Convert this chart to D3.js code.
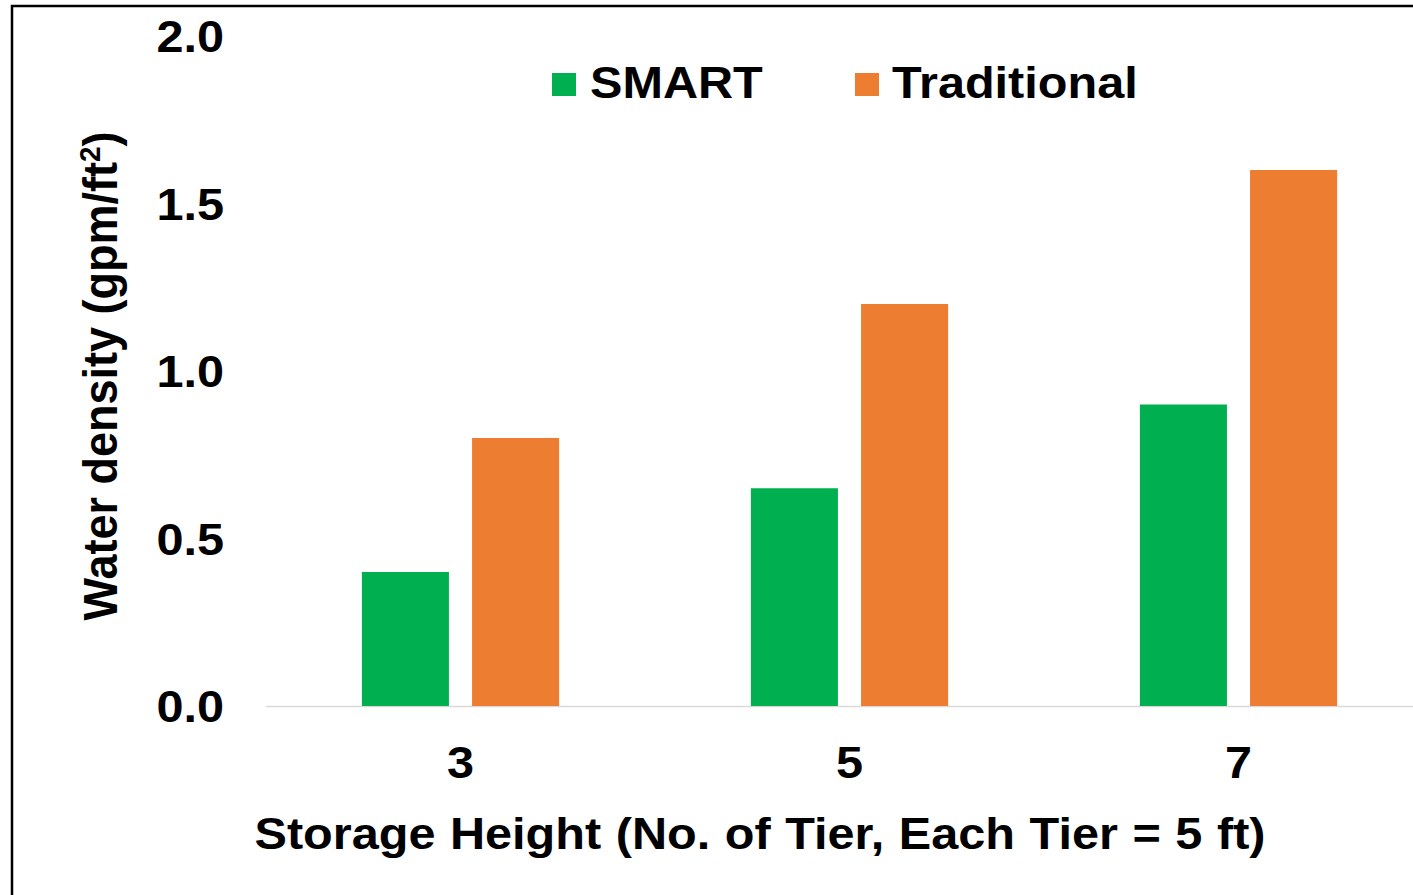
<!DOCTYPE html>
<html>
<head>
<meta charset="utf-8">
<script src="https://cdn.jsdelivr.net/npm/d3@7"></script>
<style>
  html, body { margin: 0; padding: 0; background: #fff; overflow: hidden; }
  text { font-family: "Liberation Sans", Arial, sans-serif; font-weight: bold; fill: #000; }
</style>
</head>
<body>
<svg id="chart" width="1413" height="895"></svg>
<script>
// Storage height categories (number of tiers)
const categories = ["3", "5", "7"];
const seriesNames = ["SMART", "Traditional"];
// Water density, gpm/ft²
const smartValues = [0.4, 0.65, 0.9];
const traditionalValues = [0.8, 1.2, 1.6];
const yTicks = [0, 0.5, 1.0, 1.5, 2.0];
const seriesColors = ["#00B050", "#ED7D31"];

const W = 1413, H = 895;
const FS = 45;      // base font size
const SX = 1.08;    // horizontal glyph stretch

const svg = d3.select("#chart");

const plot = { left: 266, right: 1433, top: 36, bottom: 706 };

const x = d3.scaleBand().domain(categories).range([plot.left, plot.right]).paddingInner(0).paddingOuter(0);
const x1 = d3.scaleBand().domain(seriesNames).range([0, x.bandwidth()]).paddingInner(0.21).paddingOuter(0.87);
const y = d3.scaleLinear().domain([0, 2]).range([plot.bottom, plot.top]);
const color = d3.scaleOrdinal().domain(seriesNames).range(seriesColors);

const rows = categories.map((c, i) => ({
  category: c,
  values: [
    { series: "SMART", value: smartValues[i] },
    { series: "Traditional", value: traditionalValues[i] }
  ]
}));

// Outer frame
svg.append("rect")
  .attr("x", 12).attr("y", 6)
  .attr("width", W + 20).attr("height", H + 20)
  .attr("fill", "none").attr("stroke", "#000").attr("stroke-width", 2.5);

// Category axis baseline
svg.append("line")
  .attr("x1", plot.left).attr("x2", W)
  .attr("y1", y(0) + 0.5).attr("y2", y(0) + 0.5)
  .attr("stroke", "#d9d9d9").attr("stroke-width", 1.5);

// Bars
svg.append("g")
  .selectAll("g")
  .data(rows)
  .join("g")
  .attr("transform", d => `translate(${x(d.category)},0)`)
  .selectAll("rect")
  .data(d => d.values)
  .join("rect")
  .attr("x", d => x1(d.series))
  .attr("width", x1.bandwidth())
  .attr("y", d => y(d.value))
  .attr("height", d => y(0) - y(d.value))
  .attr("fill", d => color(d.series));

// Value axis labels
const yAxis = svg.append("g")
  .attr("transform", "translate(224,0)")
  .call(d3.axisLeft(y).tickValues(yTicks).tickFormat(d3.format(".1f")).tickSize(0).tickPadding(0));
yAxis.select(".domain").remove();
yAxis.attr("font-size", FS).attr("font-family", null);
yAxis.selectAll("text")
  .attr("x", 0).attr("dy", "0.35em")
  .attr("text-anchor", "end")
  .attr("transform", `scale(${SX},1)`);

// Category axis labels
const xAxis = svg.append("g")
  .attr("transform", "translate(0,778)")
  .call(d3.axisBottom(x).tickSize(0).tickPadding(0));
xAxis.select(".domain").remove();
xAxis.attr("font-size", FS).attr("font-family", null);
xAxis.selectAll("text")
  .attr("y", 0).attr("dy", 0)
  .attr("transform", `scale(${SX},1)`);

// Axis titles
svg.append("text")
  .attr("transform", `translate(760,849) scale(${SX},1)`)
  .attr("text-anchor", "middle")
  .attr("font-size", FS)
  .attr("word-spacing", 1)
  .text("Storage Height (No. of Tier, Each Tier = 5 ft)");

const yTitle = svg.append("text")
  .attr("transform", `translate(117,376) rotate(-90) scale(1,${SX})`)
  .attr("text-anchor", "middle")
  .attr("font-size", FS);
yTitle.append("tspan").text("Water density (gpm/ft");
yTitle.append("tspan").attr("font-size", FS * 0.62).attr("dy", -FS * 0.36).text("2");
yTitle.append("tspan").attr("dy", FS * 0.36).text(")");

// Legend
const legendItems = [
  { name: "SMART", sx: 552, tx: 590 },
  { name: "Traditional", sx: 855, tx: 892 }
];
const legend = svg.append("g").selectAll("g").data(legendItems).join("g");
legend.append("rect")
  .attr("x", d => d.sx).attr("y", 73)
  .attr("width", 24).attr("height", 23)
  .attr("fill", d => color(d.name));
legend.append("text")
  .attr("transform", d => `translate(${d.tx},98) scale(${SX},1)`)
  .attr("font-size", FS)
  .text(d => d.name);
</script>
</body>
</html>
